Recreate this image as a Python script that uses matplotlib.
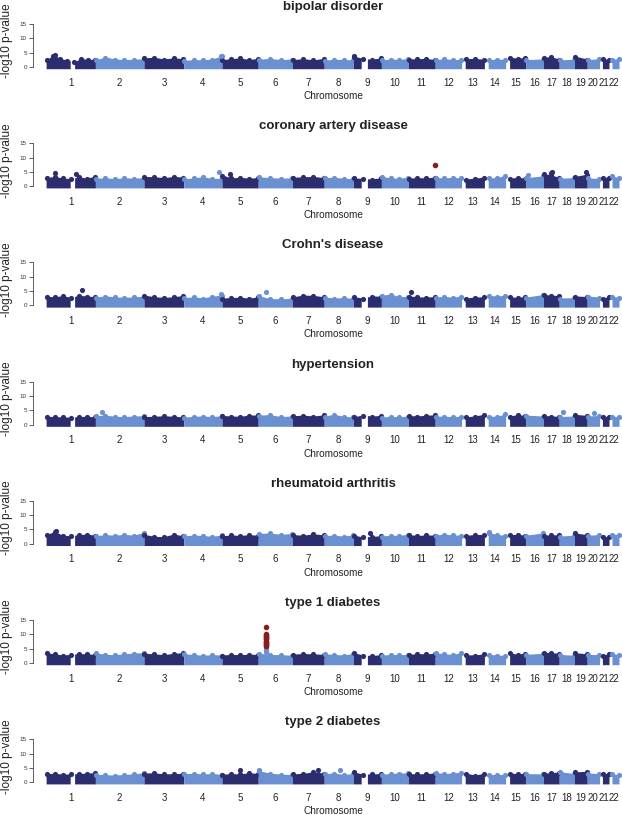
import numpy as np
import matplotlib
matplotlib.use("Agg")
import matplotlib.pyplot as plt

plt.rcParams['font.family'] = ['Liberation Sans', 'DejaVu Sans']

# ---------------- data ----------------
chrom_names = [str(i) for i in range(1, 23)]
chrom_len_mb = [247, 243, 199, 191, 181, 171, 159, 146, 140, 135, 134, 132,
                114, 106, 100, 89, 79, 76, 64, 62, 47, 50]
# genotyped stretches (Mb) per chromosome (gaps at centromeres / acrocentric arms)
chrom_segments = {
    1: [(0.5, 121), (143, 247)], 9: [(0.2, 39), (70, 140)],
    13: [(18, 114)], 14: [(19, 106)], 15: [(20, 100)],
    21: [(14, 47)], 22: [(15, 50)],
}

diseases = ["bipolar disorder", "coronary artery disease", "Crohn's disease",
            "hypertension", "rheumatoid arthritis", "type 1 diabetes",
            "type 2 diabetes"]

# upper envelope of the dense SNP cloud (-log10 p), read along each chromosome
env_bipolar = [[2.5, 4.2, 3.0, 2.4, 1.8, 3.0, 2.6, 2.8], [2.5, 3.5, 2.8, 2.6, 2.7, 2.9],
               [3.2, 3.4, 2.8, 3.2, 2.9], [2.3, 2.6, 2.5, 2.8, 3.9], [2.6, 2.9, 3.2, 2.6, 3.0],
               [2.7, 3.0, 2.6, 2.8], [2.6, 2.9, 2.5, 3.0], [2.4, 2.7, 2.6, 2.5],
               [3.8, 3.0, 2.7, 3.2], [2.5, 2.8, 2.6, 3.0], [2.8, 2.9, 3.0, 2.6],
               [2.5, 2.9, 2.6, 2.7], [2.9, 3.0, 2.7], [2.5, 2.8, 2.6], [3.5, 3.0, 3.4],
               [2.6, 2.8], [3.4, 3.6, 2.8], [2.5, 2.7], [3.8, 2.8], [2.6, 2.9],
               [3.0, 2.6], [2.7, 2.9]]
env_cad = [[3.0, 3.4, 2.9, 2.6, 3.3, 2.8, 3.5], [2.8, 2.9, 2.7, 2.9, 2.8, 3.0],
           [3.4, 3.3, 3.0, 3.4, 3.2], [2.6, 2.9, 3.3, 2.7, 2.8], [3.9, 2.9, 3.1, 2.8, 3.0],
           [3.3, 3.0, 2.8, 2.9], [3.1, 3.3, 3.4, 3.0], [3.0, 3.1, 2.8, 2.6],
           [2.9, 2.7, 2.5, 3.0], [3.4, 2.9, 2.8, 3.1], [2.8, 3.0, 2.9, 3.2],
           [3.0, 2.9, 3.1, 2.9], [2.5, 2.8, 3.2], [3.0, 2.9, 3.9], [2.8, 3.1, 2.8],
           [3.0, 3.6], [4.3, 4.0, 3.0], [2.8, 3.0], [3.4, 4.2], [2.9, 2.7],
           [3.0, 3.2], [3.6, 2.9]]
env_crohn = [[3.2, 3.0, 3.4, 2.8, 3.5, 3.3, 3.0], [2.9, 3.3, 3.0, 2.8, 3.0, 3.2],
             [3.6, 3.0, 2.8, 3.0, 3.5], [2.7, 3.0, 2.6, 3.2, 3.6], [2.6, 2.7, 2.9, 2.5, 3.0],
             [3.4, 2.4, 2.3, 2.5], [3.0, 3.6, 3.5, 3.0], [2.9, 2.6, 2.7, 2.5],
             [3.0, 2.6, 3.3, 3.2], [3.5, 4.0, 3.0, 3.2], [3.3, 3.0, 2.9, 3.1],
             [2.9, 3.2, 2.8, 3.3], [2.6, 2.9, 3.0], [3.6, 3.2, 3.6], [3.0, 2.8, 3.1],
             [2.9, 3.8], [3.8, 3.6, 3.4], [2.6, 2.7], [3.3, 3.1], [3.3, 2.9],
             [2.6, 3.0], [3.2, 2.8]]
env_hyper = [[2.9, 2.8, 2.7, 2.6, 2.8, 2.9, 2.7], [3.1, 3.3, 2.9, 2.8, 3.0, 3.1],
             [2.8, 2.9, 3.1, 2.9, 2.7], [2.6, 2.9, 3.0, 2.8, 3.1], [3.2, 3.0, 2.9, 3.3, 3.4],
             [3.3, 3.5, 2.8, 3.0], [3.1, 3.3, 3.0, 3.4], [3.0, 3.6, 2.9, 2.7],
             [2.8, 3.3, 3.0, 3.2], [2.6, 2.9, 2.7, 3.0], [3.2, 3.0, 3.3, 3.4],
             [3.0, 2.9, 2.8, 2.9], [2.7, 3.0, 3.6], [3.0, 2.8, 3.8], [3.0, 3.5, 3.2],
             [3.3, 3.0], [3.2, 3.0, 2.9], [2.8, 3.0], [3.6, 3.2], [3.0, 3.2],
             [3.0, 2.8], [3.0, 2.7]]
env_ra = [[3.2, 4.3, 3.0, 2.8, 3.2, 3.4, 3.0], [2.8, 3.2, 3.0, 3.3, 3.0, 4.0],
          [3.3, 2.6, 2.5, 3.4, 2.8], [2.8, 3.0, 2.9, 2.6, 3.1], [2.8, 3.1, 2.9, 3.2, 3.0],
          [3.6, 3.8, 3.3, 3.6], [3.2, 3.0, 3.5, 3.1], [2.9, 3.0, 2.7, 3.1],
          [3.0, 2.4, 2.6, 2.8], [2.7, 3.0, 2.9, 3.4], [3.2, 2.9, 3.1, 3.0],
          [3.0, 3.4, 3.1, 3.0], [3.0, 3.2, 3.3], [4.0, 3.2, 3.0], [3.2, 3.3, 3.0],
          [3.0, 3.8], [3.0, 3.2, 3.1], [2.7, 3.0], [3.8, 3.2], [3.0, 3.2],
          [2.6, 2.4], [3.4, 3.2]]
env_t1d = [[3.6, 3.2, 2.8, 3.0, 3.3, 3.2, 3.0], [3.6, 3.0, 2.9, 3.2, 3.5, 3.6],
           [3.4, 3.2, 2.9, 3.4, 3.6], [3.2, 3.0, 2.7, 2.9, 2.8], [2.8, 3.0, 2.9, 3.1, 3.0],
           [3.4, 3.0, 2.9, 2.7], [3.1, 3.3, 3.2, 3.0], [3.2, 3.0, 2.8, 3.3],
           [3.6, 2.8, 2.6, 2.9], [2.7, 3.0, 2.9, 3.0], [3.0, 3.3, 3.2, 3.4],
           [3.6, 3.2, 3.0, 3.6], [2.9, 2.8, 3.2], [3.0, 2.8, 2.6], [3.6, 3.0, 3.5],
           [3.0, 3.4], [3.8, 3.6, 3.4], [3.0, 2.7], [3.6, 3.2], [3.0, 2.9],
           [2.8, 3.2], [3.3, 2.9]]
env_t2d = [[3.0, 3.1, 2.8, 2.9, 3.0, 3.2, 3.3], [2.8, 2.6, 2.5, 2.7, 2.9, 3.3],
           [3.2, 3.3, 2.9, 3.0, 3.1], [3.0, 3.1, 2.9, 3.0, 2.8], [2.8, 3.0, 2.9, 3.3, 3.1],
           [4.0, 3.2, 2.8, 2.7], [2.9, 3.1, 3.6, 3.2], [3.0, 3.2, 2.7, 3.0],
           [3.6, 2.8, 2.9, 3.0], [2.8, 3.0, 3.2, 3.3], [3.0, 2.9, 3.0, 3.2],
           [3.4, 3.0, 3.2, 3.5], [3.2, 2.5, 3.1], [2.8, 2.6, 2.8], [3.2, 3.0, 3.1],
           [3.0, 2.9], [3.1, 3.4, 3.5], [3.7, 3.0], [3.6, 3.8], [3.2, 3.0],
           [3.2, 3.0], [2.9, 2.6]]
envelopes = [env_bipolar, env_cad, env_crohn, env_hyper, env_ra, env_t1d, env_t2d]

# isolated SNPs standing above the cloud: (chromosome, position Mb, -log10 p)
pts_bipolar = [(1, 45, 4.3), (4, 185, 4.0), (9, 3, 3.9)]
pts_cad = [(1, 45, 4.6), (1, 150, 4.3), (4, 176, 4.8), (5, 40, 4.1), (16, 12, 3.9),
           (17, 40, 4.6), (17, 43, 5.0), (19, 58, 4.9)]
pts_crohn = [(1, 178, 5.2), (4, 188, 4.0), (6, 39, 4.6), (11, 14, 4.5)]
pts_hyper = [(2, 31, 4.4), (18, 17, 4.3), (20, 32, 3.9)]
pts_ra = [(1, 49, 4.6), (9, 83, 3.6), (14, 22, 4.2)]
pts_t1d = [(6, 39, 5.4), (6, 39, 5.0), (6, 39, 4.6), (6, 39, 4.2), (6, 39, 3.8)]
pts_t2d = [(5, 90, 4.2), (6, 4, 4.3), (7, 128, 4.3), (8, 79, 4.2)]
points = [pts_bipolar, pts_cad, pts_crohn, pts_hyper, pts_ra, pts_t1d, pts_t2d]

# genome-wide significant SNPs (dark red)
hits_cad = [(11, 131, 7.3)]
hits_t1d = [(6, 39, 12.7), (6, 39, 10.2), (6, 39, 9.8), (6, 39, 9.4), (6, 39, 9.0),
            (6, 39, 8.6), (6, 39, 8.2), (6, 39, 7.8), (6, 39, 7.4), (6, 39, 7.0),
            (6, 39, 6.6), (6, 39, 6.2), (6, 39, 5.8)]
hits = [[], hits_cad, [], [], [], hits_t1d, []]

y_ticks = [0, 5, 10, 15]

# ---------------- drawing ----------------
DARK = "#2b2d6e"
LIGHT = "#6a90d2"
RED = "#8b1c1c"

W, H = 622, 815
fig = plt.figure(figsize=(W / 100, H / 100), dpi=100)

offsets = np.concatenate([[0], np.cumsum(chrom_len_mb)[:-1]])
centers = offsets + np.array(chrom_len_mb) / 2.0

step = 119.2
unit = 2.867  # px per -log10 unit
for k, name in enumerate(diseases):
    zero_px = 67 + step * k
    ymin, ymax = -1.5, 15.5
    bottom_px = zero_px - ymin * unit
    top_px = zero_px - ymax * unit
    ax = fig.add_axes([33 / W, 1 - bottom_px / H, (W - 33) / W, (bottom_px - top_px) / H])
    ax.set_xlim(-65, 2880)
    ax.set_ylim(ymin, ymax)

    for c in range(22):
        col = DARK if c % 2 == 0 else LIGHT
        segs = chrom_segments.get(c + 1, [(0, chrom_len_mb[c])])
        env = envelopes[k][c]
        lo = segs[0][0]
        hi = segs[-1][1]
        anchors = np.linspace(lo + 2, hi - 2, len(env))
        for (a, b) in segs:
            xs = np.linspace(a, b, 60)
            ys = np.interp(xs, anchors, env)
            ax.fill_between(offsets[c] + xs, -0.6, ys, color=col, lw=0, zorder=2)
        ax.scatter(offsets[c] + anchors, np.array(env) - 0.2, s=14, color=col, lw=0, zorder=2)

    for (c, p, v) in points[k]:
        col = DARK if (c - 1) % 2 == 0 else LIGHT
        ax.scatter(offsets[c - 1] + p, v, s=14, color=col, lw=0, zorder=3)
    for (c, p, v) in hits[k]:
        ax.scatter(offsets[c - 1] + p, v, s=16, color=RED, lw=0, zorder=4)

    for s in ["top", "right", "bottom"]:
        ax.spines[s].set_visible(False)
    ax.spines["left"].set_bounds(0, 15)
    ax.spines["left"].set_color("#444444")
    ax.spines["left"].set_linewidth(0.6)
    ax.set_yticks(y_ticks)
    ax.set_yticklabels([str(t) for t in y_ticks], fontsize=4.5, color="#333333")
    ax.tick_params(axis="y", length=3, width=0.6, pad=1.5, color="#444444")
    ax.set_xticks(centers)
    ax.set_xticklabels(chrom_names, fontsize=7, color="#222222")
    ax.tick_params(axis="x", length=0, pad=4.5)
    ax.patch.set_alpha(0)

    fig.text(333 / W, 1 - (7 + step * k) / H, name, ha="center",
             va="center", fontsize=9.5, fontweight="bold", color="#222222")
    fig.text(333 / W, 1 - (96 + step * k) / H, "Chromosome", ha="center", va="center",
             fontsize=7.2, color="#222222")
    fig.text(7 / W, 1 - (41 + step * k) / H, "-log10 p-value", ha="center",
             va="center", rotation=90, fontsize=8.5, color="#222222")

fig.savefig("out.png", dpi=100)
